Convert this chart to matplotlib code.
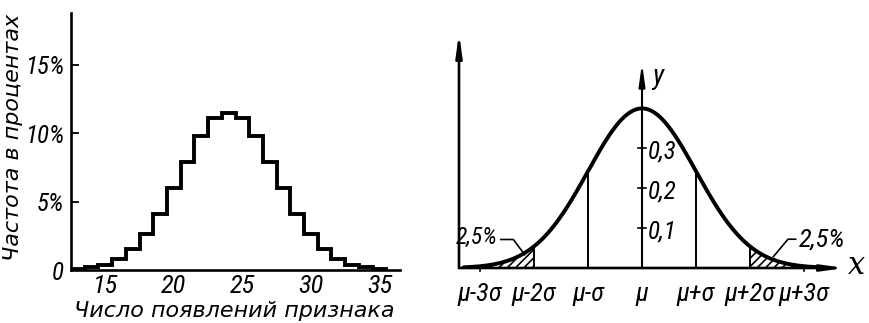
import numpy as np
import matplotlib

matplotlib.use("Agg")
import matplotlib.pyplot as plt

plt.rcParams["font.family"] = ["Roboto Condensed", "DejaVu Sans"]
plt.rcParams["hatch.linewidth"] = 1.2

# left panel: frequency (%) of the number of occurrences
counts = [13, 14, 15, 16, 17, 18, 19, 20, 21, 22, 23, 24,
          25, 26, 27, 28, 29, 30, 31, 32, 33, 34, 35]
freq_pct = [0.1, 0.2, 0.4, 0.8, 1.5, 2.6, 4.1, 6.0, 7.9, 9.8, 11.1, 11.5,
            11.1, 9.8, 7.9, 6.0, 4.1, 2.6, 1.5, 0.8, 0.4, 0.2, 0.1]
freq_ticks = [0, 5, 10, 15]
freq_labels = ["0", "5%", "10%", "15%"]
count_ticks = [15, 20, 25, 30, 35]

# right panel: normal curve in units of sigma
mu, sigma = 0.0, 1.0
sigma_ticks = [-3, -2, -1, 0, 1, 2, 3]
sigma_labels = ["μ-3σ", "μ-2σ", "μ-σ", "μ", "μ+σ", "μ+2σ", "μ+3σ"]
density_ticks = [0.1, 0.2, 0.3]
density_labels = ["0,1", "0,2", "0,3"]
tail_label = "2,5%"

W, H = 869, 323
fig = plt.figure(figsize=(W / 100, H / 100), dpi=100)

# ---- histogram ----
ax1 = fig.add_axes([71 / W, 53 / H, 329 / W, 257 / H])
edges = np.append(np.array(counts) - 0.5, counts[-1] + 0.5)
ax1.stairs(freq_pct, edges, color="black", linewidth=2.8)
ax1.set_xlim(12.5, 36.5)
ax1.set_ylim(0, 18.8)
for side in ("top", "right"):
    ax1.spines[side].set_visible(False)
for side in ("left", "bottom"):
    ax1.spines[side].set_linewidth(1.9)
ax1.set_yticks(freq_ticks, freq_labels)
ax1.set_xticks(count_ticks)
ax1.tick_params(axis="y", direction="in", length=6, width=1.3, pad=5,
                labelsize=18)
ax1.tick_params(axis="x", length=0, pad=3, labelsize=19)
for lab in ax1.get_yticklabels() + ax1.get_xticklabels():
    lab.set_style("italic")
fig.text(13 / W, 1 - 137 / H, "Частота в процентах", rotation=90,
         ha="center", va="center", style="italic", fontsize=16,
         family=["DejaVu Sans"])
fig.text(234 / W, 1 - 311 / H, "Число появлений признака",
         ha="center", va="center", style="italic", fontsize=16,
         family=["DejaVu Sans"])

# ---- normal curve ----
ax2 = fig.add_axes([459 / W, 55 / H, 386 / W, 235 / H])
ax2.set_xlim(-3.389, 3.759)
ax2.set_ylim(0, 0.5875)
ax2.axis("off")


def pdf(x):
    return np.exp(-0.5 * ((x - mu) / sigma) ** 2) / (sigma * np.sqrt(2 * np.pi))


xs = np.linspace(-3.3, 3.35, 400)
ax2.plot(xs, pdf(xs), color="black", linewidth=2.8, solid_capstyle="round")

for lo, hi in ((-3.3, -2), (2, 3.35)):
    xt = np.linspace(lo, hi, 100)
    ax2.fill_between(xt, 0, pdf(xt), facecolor="none", edgecolor="black",
                     hatch="////", linewidth=0)

for k in (-2, -1, 1, 2):
    ax2.plot([k, k], [-0.006, pdf(k)], color="black", linewidth=1.4)
for k in (-3, 3):
    ax2.plot([k, k], [-0.008, 0], color="black", linewidth=1.2, clip_on=False)

arrow = dict(arrowstyle="-|>,head_length=1.3,head_width=0.18",
             color="black", shrinkA=0, shrinkB=0)
ax2.annotate("", xy=(3.759, 0), xytext=(-3.389, 0),
             arrowprops=dict(arrow, linewidth=1.9), annotation_clip=False)
ax2.annotate("", xy=(-3.389, 0.5875), xytext=(-3.389, 0),
             arrowprops=dict(arrow, linewidth=1.9), annotation_clip=False)
ax2.annotate("", xy=(0, 0.5125), xytext=(0, 0),
             arrowprops=dict(arrow, linewidth=1.5), annotation_clip=False)

for v, lab in zip(density_ticks, density_labels):
    ax2.plot([-0.08, 0.08], [v, v], color="black", linewidth=1.2)
    ax2.text(0.11, v - 0.01, lab, ha="left", va="center", style="italic",
             fontsize=18)
for k, lab in zip(sigma_ticks, sigma_labels):
    ax2.text(k, -0.064, lab, ha="center", va="center", style="italic",
             fontsize=19)

ax2.text(3.98, 0.005, "x", ha="center", va="center", style="italic",
         fontsize=22, family=["DejaVu Serif"])
ax2.text(0.3, 0.4775, "y", ha="center", va="center", style="italic",
         fontsize=20)

ax2.annotate(tail_label, xy=(-2.17, 0.033), xytext=(-2.67, 0.077),
             ha="right", va="center", style="italic", fontsize=17,
             arrowprops=dict(arrowstyle="-", color="black", linewidth=1.2,
                             relpos=(1, 0.4), shrinkA=0, shrinkB=0,
                             connectionstyle="angle,angleA=0,angleB=127,rad=0"))
ax2.annotate(tail_label, xy=(2.43, 0.028), xytext=(2.90, 0.072),
             ha="left", va="center", style="italic", fontsize=19,
             arrowprops=dict(arrowstyle="-", color="black", linewidth=1.2,
                             relpos=(0, 0.5), shrinkA=0, shrinkB=0,
                             connectionstyle="angle,angleA=180,angleB=50,rad=0"))

fig.savefig("out.png", dpi=100)
